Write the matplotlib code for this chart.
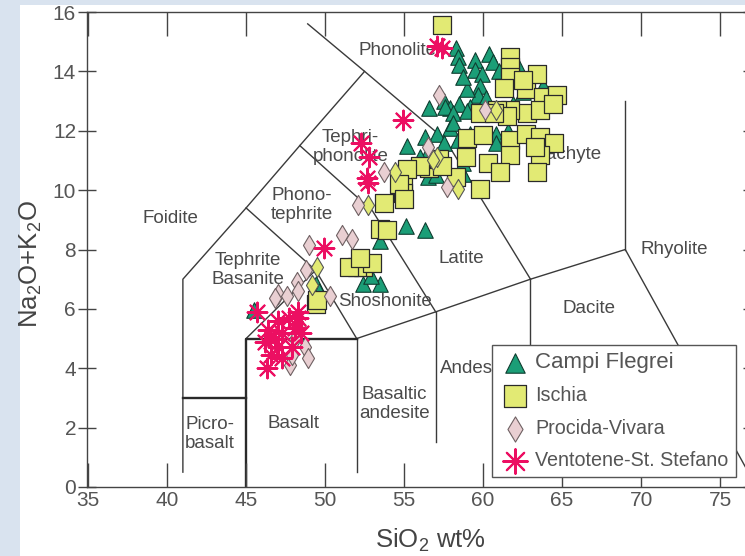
import matplotlib
matplotlib.use("Agg")
import matplotlib.pyplot as plt
from matplotlib.patches import Rectangle

plt.rcParams['font.family'] = ['Liberation Sans', 'DejaVu Sans']
plt.rcParams['mathtext.default'] = 'regular'

# ---- data (SiO2 wt%, Na2O+K2O) ----
campi_x = [58.3, 58.4, 58.5, 59.5, 59.5, 60.4, 60.6, 59.9, 59.8, 59.7, 59.0, 58.7,
           57.5, 58.5, 59.2, 57.9, 62.3, 63.8, 62.5, 56.6, 57.6, 58.1, 59.0, 57.9,
           57.1, 56.3, 56.6, 58.4, 59.2, 60.8, 58.7, 56.5, 55.2, 57.5, 58.7, 60.8,
           61.6, 58.1, 56.0, 61.0, 60.2, 61.9, 55.1, 56.3, 53.5, 53.0, 52.4, 53.5,
           52.9, 49.4, 45.5, 49.6, 57.0]
campi_y = [14.8, 14.5, 14.2, 14.4, 14.05, 14.6, 14.3, 13.9, 13.5, 13.2, 13.4, 13.8,
           13.0, 12.9, 12.8, 12.75, 14.1, 13.5, 13.3, 12.75, 12.8, 12.6, 12.65, 12.1,
           11.9, 11.8, 11.35, 11.7, 11.9, 11.9, 10.55, 10.45, 11.5, 11.6, 10.9, 11.6,
           12.0, 12.25, 11.1, 14.0, 13.1, 12.9, 8.8, 8.65, 8.3, 7.5, 6.85, 6.85,
           7.1, 6.85, 5.95, 6.6, 10.5]

ischia_x = [57.4, 61.7, 61.7, 61.7, 61.3, 62.7, 63.4, 63.8, 64.7, 62.5, 62.8, 63.6,
            61.7, 60.9, 59.8, 59.0, 60.0, 61.5, 64.4, 61.7, 62.7, 63.6, 64.5, 58.9,
            60.3, 61.7, 63.6, 63.4, 61.1, 59.8, 57.1, 56.6, 63.3, 56.0, 54.9, 54.9,
            53.7, 53.5, 53.9, 52.4, 52.0, 53.0, 51.5, 52.2, 55.2, 57.2, 58.3, 49.4,
            49.5, 54.7, 55.0, 57.4, 60.7]
ischia_y = [15.55, 14.5, 14.15, 13.8, 13.45, 13.4, 13.9, 13.15, 13.2, 13.7, 12.6, 12.7,
            12.7, 12.7, 12.6, 11.75, 11.85, 12.5, 12.9, 11.7, 11.9, 11.8, 11.6, 11.1,
            10.9, 11.2, 11.2, 10.6, 10.6, 10.05, 11.0, 10.75, 11.45, 10.8, 10.3, 9.9,
            9.55, 8.7, 8.65, 7.4, 7.4, 7.55, 7.4, 7.7, 10.7, 11.05, 10.45, 6.15,
            6.3, 10.2, 9.7, 10.8, 12.6]

# yellow diamonds (not in the legend)
ischia_d_x = [52.7, 54.4, 57.1, 58.4, 60.8, 49.5, 56.8, 49.2]
ischia_d_y = [9.5, 10.6, 11.1, 10.05, 12.7, 7.4, 11.0, 6.8]

procida_x = [57.2, 60.1, 56.5, 53.7, 57.7, 52.1, 51.1, 51.7, 49.0, 48.8, 48.2, 50.3,
             47.0, 47.6, 48.3, 46.8, 48.7, 48.9, 47.8, 48.1, 47.9, 48.4]
procida_y = [13.2, 12.7, 11.45, 10.6, 10.1, 9.5, 8.5, 8.35, 8.15, 7.3, 6.9, 6.45,
             6.5, 6.45, 6.6, 6.35, 4.7, 4.35, 4.1, 5.0, 4.45, 5.4]

vento_x = [57.1, 57.4, 54.9, 52.3, 52.8, 52.65, 52.7, 49.9, 45.7, 46.4, 47.0, 47.7,
           48.3, 48.5, 47.3, 46.2, 47.0, 47.9, 46.6, 47.3, 46.3, 48.1, 48.3, 46.8]
vento_y = [14.85, 14.8, 12.35, 11.6, 11.1, 10.4, 10.25, 8.05, 5.9, 5.3, 5.6, 5.7,
           5.7, 5.2, 5.2, 4.9, 4.7, 4.7, 4.45, 4.35, 4.0, 5.35, 5.9, 5.0]

# TAS field boundaries (polylines)
boundaries = [
    [(41, 0.5), (41, 7), (45, 9.4), (48.4, 11.5), (52.5, 14), (48.9, 15.6)],
    [(45, 9.4), (49.4, 7.3), (52, 5)],
    [(45, 5), (49.4, 7.3)],
    [(48.4, 11.5), (53, 9.3), (57, 5.9)],
    [(52.5, 14), (57.6, 11.7), (63, 7)],
    [(52, 5), (57, 5.9), (63, 7), (69, 8), (77.3, 0)],
    [(69, 8), (69, 13)],
    [(52, 0.5), (52, 5)],
    [(57, 1.5), (57, 5.9)],
    [(63, 1.5), (63, 7)],
]
thick_boundaries = [
    [(41, 3), (45, 3)],
    [(45, 0), (45, 5), (52, 5)],
]

field_names = ["Phonolite", "Tephri-\nphonolite", "Phono-\ntephrite", "Foidite",
               "Tephrite\nBasanite", "Shoshonite", "Latite", "Trachyte", "Rhyolite",
               "Dacite", "Andesite", "Basaltic\nandesite", "Basalt", "Picro-\nbasalt"]
field_x = [54.6, 51.6, 48.5, 40.2, 45.1, 53.8, 58.6, 65.2, 72.1, 66.7, 59.6, 54.4, 48.0, 42.7]
field_y = [14.7, 11.45, 9.5, 9.05, 7.3, 6.25, 7.7, 11.2, 8.0, 6.0, 4.0, 2.8, 2.15, 1.8]

fig = plt.figure(figsize=(7.45, 5.56), dpi=100, facecolor='#d9e3ef')
fig.patches.append(Rectangle((20 / 745, 0), 1, 551 / 556, transform=fig.transFigure,
                             facecolor='white', edgecolor='none', zorder=-10))

ax = fig.add_axes([86.5 / 745, 69 / 556, 665.2 / 745, 475 / 556])
ax.set_xlim(34.9, 77.0)
ax.set_ylim(0, 16)

for line in boundaries:
    xs, ys = zip(*line)
    ax.plot(xs, ys, color='#3a3a3a', lw=1.0, zorder=1)
for line in thick_boundaries:
    xs, ys = zip(*line)
    ax.plot(xs, ys, color='#2a2a2a', lw=1.7, zorder=1)

for name, fx, fy in zip(field_names, field_x, field_y):
    ax.text(fx, fy, name, ha='center', va='center', fontsize=13.5,
            color='#4a4a4a', linespacing=1.15, zorder=2)

ax.scatter(campi_x, campi_y, marker='^', s=125, facecolor='#1b9e77',
           edgecolor='#0f3d30', linewidths=0.8, zorder=3, label='Campi Flegrei')
ax.scatter(ischia_x, ischia_y, marker='s', s=165, facecolor='#e2ea74',
           edgecolor='#2a2a2a', linewidths=0.9, zorder=4, label='Ischia')
ax.scatter(ischia_d_x, ischia_d_y, marker='d', s=105, facecolor='#e2ea74',
           edgecolor='#555555', linewidths=0.8, zorder=4)
ax.scatter(procida_x, procida_y, marker='d', s=105, facecolor='#e9cfd2',
           edgecolor='#6e6062', linewidths=0.8, zorder=5, label='Procida-Vivara')
ax.scatter(vento_x, vento_y, marker=(8, 2, 0), s=200, color='#ec0f62',
           linewidths=1.5, zorder=6, label='Ventotene-St. Stefano')

for sp in ['left', 'top', 'bottom', 'right']:
    ax.spines[sp].set_color('#444444')
    ax.spines[sp].set_linewidth(1.0)

ax.set_xticks(range(35, 80, 5))
ax.set_yticks(range(0, 17, 2))
ax.tick_params(axis='x', direction='in', length=17, width=1.0, color='#444444',
               top=True, labelsize=15, labelcolor='#555555', pad=3)
ax.tick_params(axis='y', direction='inout', length=13, width=1.0, color='#444444',
               right=True, labelsize=15, labelcolor='#555555', pad=1)

fig.text(430 / 745, (556 - 540) / 556, 'SiO$_2$ wt%', ha='center', va='center',
         fontsize=18.5, color='#444444')
fig.text(31 / 745, (556 - 264) / 556, 'Na$_2$O+K$_2$O', ha='center', va='center',
         rotation=90, fontsize=18.5, color='#444444')

leg = ax.legend(loc='upper left', bbox_to_anchor=(492 / 745, (556 - 345) / 556),
                bbox_transform=fig.transFigure, fontsize=14.2, frameon=True,
                fancybox=False, framealpha=1, edgecolor='#555555',
                handlelength=1.6, handletextpad=0.25, borderpad=0.35,
                labelspacing=0.68, borderaxespad=0, markerscale=1.25)
leg.get_frame().set_linewidth(1.0)
for t in leg.get_texts():
    t.set_color('#555555')
leg.get_texts()[0].set_fontsize(16)

fig.savefig('out.png', dpi=100, facecolor=fig.get_facecolor())
